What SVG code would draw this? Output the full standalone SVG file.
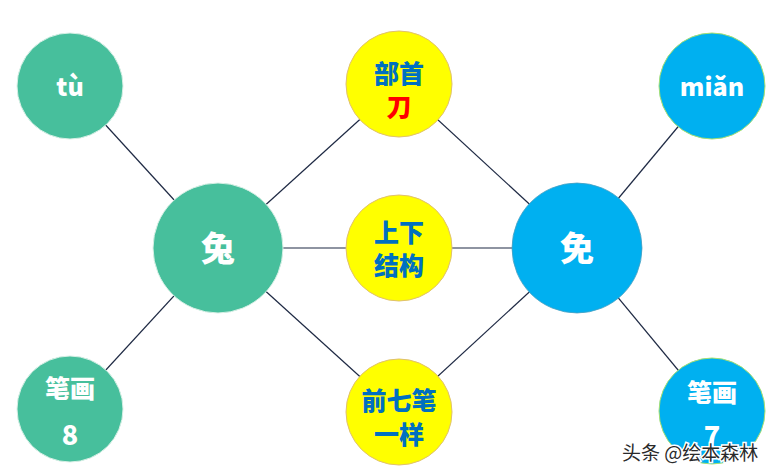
<svg xmlns="http://www.w3.org/2000/svg" width="779" height="476" viewBox="0 0 779 476">
<style>
.lk{stroke:#1f2a44;stroke-width:1.2;fill:none}
.g{fill:#47bf9c;stroke:#d8f0e6;stroke-width:1}
.b{fill:#00b0f0;stroke:#a8e070;stroke-width:1}
.bc{fill:#00b0f0;stroke:#4aa0c0;stroke-width:0.8}
.y{fill:#ffff00;stroke:#e0c070;stroke-width:1}
text{font-family:"Noto Sans CJK SC","Noto Sans",sans-serif;font-weight:900;text-anchor:middle;dominant-baseline:central}
.w{fill:#ffffff}
.bl{fill:#0070c0}
.rd{fill:#ff0000}
.wm{font-weight:normal;font-size:19px;fill:#2a2a2a;stroke:#ffffff;stroke-width:3;paint-order:stroke;text-anchor:start;dominant-baseline:auto}
</style>
<rect width="779" height="476" fill="#ffffff"/>
<g id="connectors">
<line class="lk" x1="70" y1="86" x2="218" y2="248"/>
<line class="lk" x1="70" y1="409" x2="218" y2="248"/>
<line class="lk" x1="218" y1="248" x2="399" y2="84"/>
<line class="lk" x1="218" y1="248" x2="399" y2="248"/>
<line class="lk" x1="218" y1="248" x2="399" y2="412"/>
<line class="lk" x1="577" y1="248" x2="399" y2="84"/>
<line class="lk" x1="577" y1="248" x2="399" y2="248"/>
<line class="lk" x1="577" y1="248" x2="399" y2="412"/>
<line class="lk" x1="577" y1="248" x2="712" y2="86"/>
<line class="lk" x1="577" y1="248" x2="712" y2="411"/>
</g>
<g id="tu-pinyin"><circle class="g" cx="70" cy="86" r="53"/><text class="w" x="70" y="85" font-size="25">tù</text></g>
<g id="tu-char"><circle class="g" cx="218" cy="248" r="65"/><text class="w" x="218" y="246" font-size="34">兔</text></g>
<g id="tu-strokes"><circle class="g" cx="70" cy="409" r="53"/><text class="w" x="70" y="387" font-size="25">笔画</text><text class="w" x="70" y="433" font-size="27">8</text></g>
<g id="radical"><circle class="y" cx="399" cy="84" r="53"/><text class="bl" x="399" y="72" font-size="25">部首</text><text class="rd" x="399" y="105" font-size="25">刀</text></g>
<g id="structure"><circle class="y" cx="399" cy="248" r="53"/><text class="bl" x="399" y="231" font-size="25">上下</text><text class="bl" x="399" y="264" font-size="25">结构</text></g>
<g id="same"><circle class="y" cx="399" cy="412" r="53"/><text class="bl" x="399" y="399" font-size="25">前七笔</text><text class="bl" x="399" y="433" font-size="25">一样</text></g>
<g id="mian-char"><circle class="bc" cx="577" cy="248" r="65"/><text class="w" x="577" y="246" font-size="34">免</text></g>
<g id="mian-pinyin"><circle class="b" cx="712" cy="86" r="53"/><text class="w" x="712" y="85" font-size="25">miǎn</text></g>
<g id="mian-strokes"><circle class="b" cx="712" cy="411" r="53"/><text class="w" x="712" y="391" font-size="25">笔画</text><text class="w" x="712" y="434" font-size="27">7</text></g>
<text class="wm" x="622" y="460">头条 @绘本森林</text>
</svg>
